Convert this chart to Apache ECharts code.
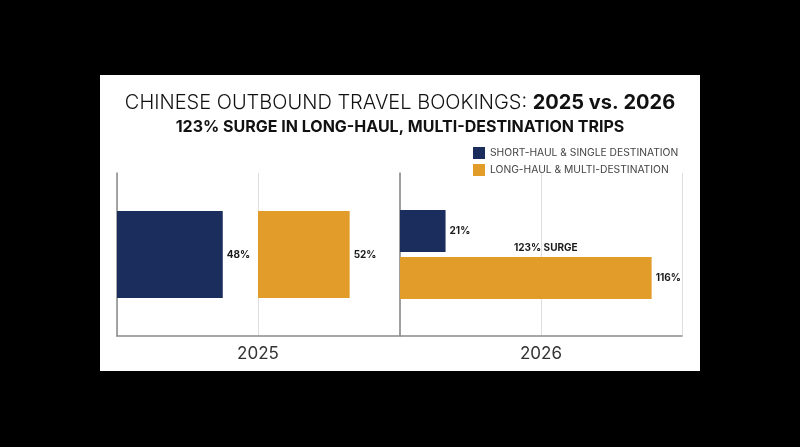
<!DOCTYPE html>
<html>
<head>
<meta charset="utf-8">
<script src="https://cdn.jsdelivr.net/npm/echarts@6/dist/echarts.min.js"></script>
<style>
  html, body { margin: 0; padding: 0; background: #000; width: 800px; height: 447px; overflow: hidden; }
  #chart { position: absolute; left: 100px; top: 75px; width: 600px; height: 296px; background: #fff; }
</style>
</head>
<body>
<div id="chart"></div>
<script>
// data
const seriesNames = ["SHORT-HAUL & SINGLE DESTINATION", "LONG-HAUL & MULTI-DESTINATION"];
const years = ["2025", "2026"];
const shortHaul = [48, 21];
const longHaul = [52, 116];
const surgeText = "123% SURGE";

const NAVY = "#1b2d5c";
const ORANGE = "#e29c2a";
const FONT = "Inter, 'Open Sans', sans-serif";

const chart = echarts.init(document.getElementById("chart"));

const labelStyle = {
  show: true,
  position: "right",
  distance: 4,
  formatter: "{c}%",
  color: "#1a1a1a",
  fontFamily: FONT,
  fontWeight: "bold",
  fontSize: 10
};

const axisLine = { show: true, lineStyle: { color: "#8a8a8a", width: 1.5 } };

const option = {
  animation: false,
  textStyle: { fontFamily: FONT },
  title: [
    {
      left: "center",
      top: 13,
      text: "{a|CHINESE OUTBOUND TRAVEL BOOKINGS: }{b|2025 vs. 2026}",
      textStyle: {
        rich: {
          a: { fontSize: 20, fontWeight: 300, color: "#111", fontFamily: FONT },
          b: { fontSize: 20, fontWeight: "bold", color: "#111", fontFamily: FONT }
        }
      }
    },
    {
      left: "center",
      top: 39,
      text: "123% SURGE IN LONG-HAUL, MULTI-DESTINATION TRIPS",
      textStyle: { fontSize: 16, fontWeight: "bold", color: "#111", fontFamily: FONT }
    }
  ],
  legend: {
    orient: "vertical",
    left: 373,
    top: 72,
    padding: 0,
    itemWidth: 12,
    itemHeight: 12,
    itemGap: 5,
    icon: "rect",
    data: seriesNames,
    textStyle: { fontSize: 10.3, color: "#444", fontFamily: FONT }
  },
  grid: [
    { left: 17, top: 98, width: 282, height: 163 },
    { left: 300, top: 98, width: 282, height: 163 }
  ],
  xAxis: [
    {
      gridIndex: 0, type: "value", min: 0, max: 128, interval: 64,
      axisLine: axisLine, axisTick: { show: false }, axisLabel: { show: false },
      splitLine: { show: true, lineStyle: { color: "#dedede" } },
      name: years[0], nameLocation: "middle", nameGap: 9,
      nameTextStyle: { fontSize: 17, color: "#333", fontFamily: FONT, verticalAlign: "top" }
    },
    {
      gridIndex: 0, type: "value", min: -80, max: 80, show: false
    },
    {
      gridIndex: 1, type: "value", min: 0, max: 130, interval: 65,
      axisLine: axisLine, axisTick: { show: false }, axisLabel: { show: false },
      splitLine: { show: true, lineStyle: { color: "#dedede" } },
      name: years[1], nameLocation: "middle", nameGap: 9,
      nameTextStyle: { fontSize: 17, color: "#333", fontFamily: FONT, verticalAlign: "top" }
    }
  ],
  yAxis: [
    {
      gridIndex: 0, type: "category", data: [years[0]],
      axisLine: axisLine, axisTick: { show: false }, axisLabel: { show: false }
    },
    {
      gridIndex: 1, type: "category", data: [years[1]],
      axisLine: axisLine, axisTick: { show: false }, axisLabel: { show: false }
    }
  ],
  series: [
    {
      name: seriesNames[0], type: "bar", xAxisIndex: 0, yAxisIndex: 0,
      data: [shortHaul[0]], barWidth: 87, barGap: "-100%",
      itemStyle: { color: NAVY }, label: labelStyle
    },
    {
      name: seriesNames[1], type: "bar", xAxisIndex: 1, yAxisIndex: 0,
      data: [longHaul[0]], barWidth: 87, barGap: "-100%",
      itemStyle: { color: ORANGE }, label: labelStyle
    },
    {
      name: seriesNames[0], type: "bar", xAxisIndex: 2, yAxisIndex: 1,
      data: [shortHaul[1]], barWidth: 42, barGap: "12%",
      itemStyle: { color: NAVY }, label: labelStyle
    },
    {
      name: seriesNames[1], type: "bar", xAxisIndex: 2, yAxisIndex: 1,
      data: [longHaul[1]], barWidth: 42, barGap: "12%",
      itemStyle: { color: ORANGE }, label: labelStyle
    }
  ],
  graphic: [
    {
      type: "text", left: 414, top: 168,
      style: {
        text: surgeText,
        fontSize: 10, fontWeight: "bold", fill: "#1a1a1a", fontFamily: FONT
      }
    }
  ]
};

chart.setOption(option);
</script>
</body>
</html>
